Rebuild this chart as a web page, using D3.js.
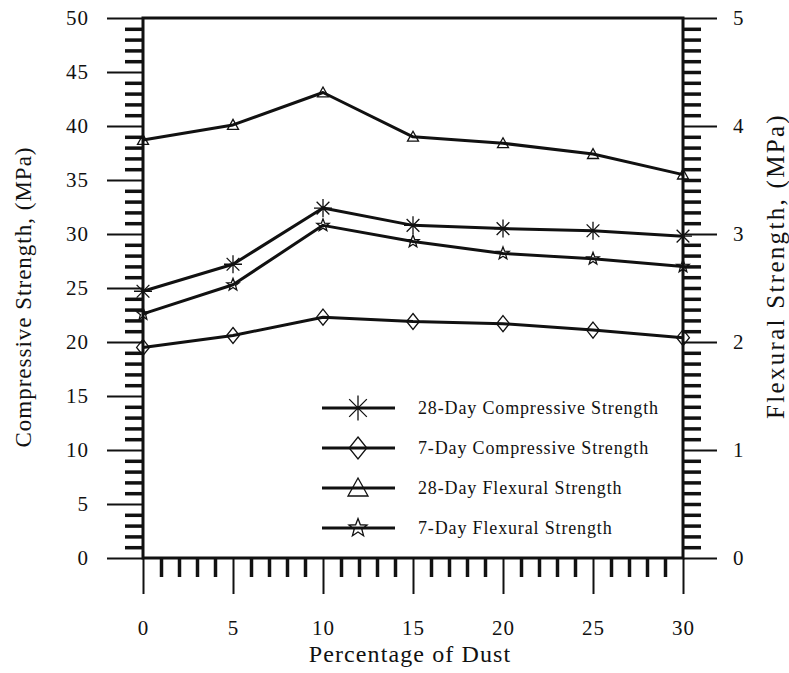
<!DOCTYPE html>
<html>
<head>
<meta charset="utf-8">
<script src="https://cdn.jsdelivr.net/npm/d3@7"></script>
<style>
  body { margin: 0; background: #fff; }
</style>
</head>
<body>
<div id="chart"></div>
<script>
// ---- data ----
const dust   = [0, 5, 10, 15, 20, 25, 30];
const comp28 = [24.7, 27.2, 32.4, 30.8, 30.5, 30.3, 29.8];   // MPa, left axis
const comp7  = [19.5, 20.6, 22.3, 21.9, 21.7, 21.1, 20.4];   // MPa, left axis
const flex28 = [3.87, 4.01, 4.31, 3.90, 3.84, 3.74, 3.55];   // MPa, right axis
const flex7  = [2.26, 2.53, 3.08, 2.93, 2.82, 2.77, 2.70];   // MPa, right axis

const seriesNames = [
  "28-Day Compressive Strength",
  "7-Day Compressive Strength",
  "28-Day Flexural Strength",
  "7-Day Flexural Strength"
];

const xTickLabels     = [0, 5, 10, 15, 20, 25, 30];
const leftTickLabels  = [0, 5, 10, 15, 20, 25, 30, 35, 40, 45, 50];
const rightTickLabels = [0, 1, 2, 3, 4, 5];

const FONT = "'Liberation Serif', 'Times New Roman', Times, serif";

// ---- custom marker shapes (d3.symbol types) ----
const asterisk = { draw(ctx, size) {
  const r = Math.sqrt(size) / 2;
  for (let k = 0; k < 4; k++) {
    const a = k * Math.PI / 4;
    ctx.moveTo(-r * Math.cos(a), -r * Math.sin(a));
    ctx.lineTo(r * Math.cos(a), r * Math.sin(a));
  }
}};
const diamond = { draw(ctx, size) {
  const w = Math.sqrt(size) / 2 * 0.8, h = Math.sqrt(size) / 2;
  ctx.moveTo(0, -h); ctx.lineTo(w, 0); ctx.lineTo(0, h); ctx.lineTo(-w, 0); ctx.closePath();
}};
const triangle = { draw(ctx, size) {
  const r = Math.sqrt(size) / 2;
  ctx.moveTo(0, -r); ctx.lineTo(r, r * 0.8); ctx.lineTo(-r, r * 0.8); ctx.closePath();
}};
const star = { draw(ctx, size) {
  const R = Math.sqrt(size) / 2, ri = R * 0.42;
  for (let k = 0; k < 10; k++) {
    const rr = k % 2 ? ri : R;
    const a = -Math.PI / 2 + k * Math.PI / 5;
    const px = rr * Math.cos(a), py = rr * Math.sin(a);
    k ? ctx.lineTo(px, py) : ctx.moveTo(px, py);
  }
  ctx.closePath();
}};

const series = [
  { name: seriesNames[0], values: comp28, axis: "left",  shape: asterisk, size: 18 * 18 },
  { name: seriesNames[1], values: comp7,  axis: "left",  shape: diamond,  size: 16 * 16 },
  { name: seriesNames[2], values: flex28, axis: "right", shape: triangle, size: 11 * 11 },
  { name: seriesNames[3], values: flex7,  axis: "right", shape: star,     size: 13 * 13 }
];

// ---- layout ----
const W = 789, H = 673;
const plot = { left: 143, right: 683, top: 18, bottom: 558 };

const svg = d3.select("#chart").append("svg")
  .attr("width", W)
  .attr("height", H)
  .attr("font-family", FONT);

const x  = d3.scaleLinear().domain([0, 30]).range([plot.left, plot.right]);
const yL = d3.scaleLinear().domain([0, 50]).range([plot.bottom, plot.top]);
const yR = d3.scaleLinear().domain([0, 5]).range([plot.bottom, plot.top]);

// ---- axes: thick short minor ticks + thin long major ticks ----
function styleAxis(g, width) {
  g.attr("font-family", FONT).attr("font-size", 21);
  g.select(".domain").remove();
  g.selectAll("line").attr("stroke", "#111").attr("stroke-width", width);
  g.selectAll("text").attr("fill", "#111").style("letter-spacing", "1px");
}

const leftMinor = d3.range(0, 51).filter(v => v % 5 !== 0);
svg.append("g")
  .attr("transform", `translate(${plot.left},0)`)
  .call(d3.axisLeft(yL).tickValues(leftMinor).tickSize(18).tickFormat(""))
  .call(g => styleAxis(g, 3.5));
svg.append("g")
  .attr("transform", `translate(${plot.left},0)`)
  .call(d3.axisLeft(yL).tickValues(leftTickLabels).tickSize(36).tickPadding(18).tickFormat(d3.format("d")))
  .call(g => styleAxis(g, 2));

const rightMinor = d3.range(0, 51).filter(v => v % 10 !== 0).map(v => v / 10);
svg.append("g")
  .attr("transform", `translate(${plot.right},0)`)
  .call(d3.axisRight(yR).tickValues(rightMinor).tickSize(18).tickFormat(""))
  .call(g => styleAxis(g, 3.5));
svg.append("g")
  .attr("transform", `translate(${plot.right},0)`)
  .call(d3.axisRight(yR).tickValues(rightTickLabels).tickSize(34).tickPadding(16).tickFormat(d3.format("d")))
  .call(g => styleAxis(g, 2));

const xMinor = d3.range(0, 31).filter(v => v % 5 !== 0);
svg.append("g")
  .attr("transform", `translate(0,${plot.bottom})`)
  .call(d3.axisBottom(x).tickValues(xMinor).tickSize(19).tickFormat(""))
  .call(g => styleAxis(g, 3.5));
svg.append("g")
  .attr("transform", `translate(0,${plot.bottom})`)
  .call(d3.axisBottom(x).tickValues(xTickLabels).tickSize(36).tickPadding(26).tickFormat(d3.format("d")))
  .call(g => styleAxis(g, 2));

// ---- frame ----
svg.append("rect")
  .attr("x", x(0))
  .attr("y", yL(50))
  .attr("width", x(30) - x(0))
  .attr("height", yL(0) - yL(50))
  .attr("fill", "none")
  .attr("stroke", "#111")
  .attr("stroke-width", 3);

// ---- lines and markers ----
series.forEach(s => {
  const yS = s.axis === "left" ? yL : yR;
  const pts = dust.map((d, i) => [x(d), yS(s.values[i])]);

  svg.append("path")
    .datum(pts)
    .attr("d", d3.line())
    .attr("fill", "none")
    .attr("stroke", "#111")
    .attr("stroke-width", 3)
    .attr("stroke-linejoin", "round");

  svg.selectAll(null)
    .data(pts)
    .enter()
    .append("path")
    .attr("transform", p => `translate(${p[0]},${p[1]})`)
    .attr("d", d3.symbol().type(s.shape).size(s.size))
    .attr("fill", "none")
    .attr("stroke", "#111")
    .attr("stroke-width", 1.3);
});

// ---- legend ----
const legend = svg.append("g").attr("transform", "translate(322,408)");
const legendSizes = [25 * 25, 22 * 22, 20 * 20, 19 * 19];
series.forEach((s, i) => {
  const row = legend.append("g").attr("transform", `translate(0,${i * 40})`);
  row.append("line")
    .attr("x1", 0).attr("x2", 73)
    .attr("stroke", "#111").attr("stroke-width", 3);
  row.append("path")
    .attr("transform", "translate(36,0)")
    .attr("d", d3.symbol().type(s.shape).size(legendSizes[i]))
    .attr("fill", "none")
    .attr("stroke", "#111")
    .attr("stroke-width", 1.3);
  row.append("text")
    .attr("x", 96)
    .attr("y", 6)
    .attr("fill", "#111")
    .style("font-size", "18px")
    .style("letter-spacing", "0.85px")
    .text(s.name);
});

// ---- axis titles ----
svg.append("text")
  .attr("transform", "translate(31,297) rotate(-90)")
  .attr("text-anchor", "middle")
  .attr("fill", "#111")
  .style("font-size", "23px")
  .style("letter-spacing", "1px")
  .text("Compressive Strength, (MPa)");

svg.append("text")
  .attr("transform", "translate(784,266) rotate(-90)")
  .attr("text-anchor", "middle")
  .attr("fill", "#111")
  .style("font-size", "25px")
  .style("letter-spacing", "2.3px")
  .text("Flexural Strength, (MPa)");

svg.append("text")
  .attr("x", 410)
  .attr("y", 662)
  .attr("text-anchor", "middle")
  .attr("fill", "#111")
  .style("font-size", "24px")
  .style("letter-spacing", "1.1px")
  .text("Percentage of Dust");
</script>
</body>
</html>
